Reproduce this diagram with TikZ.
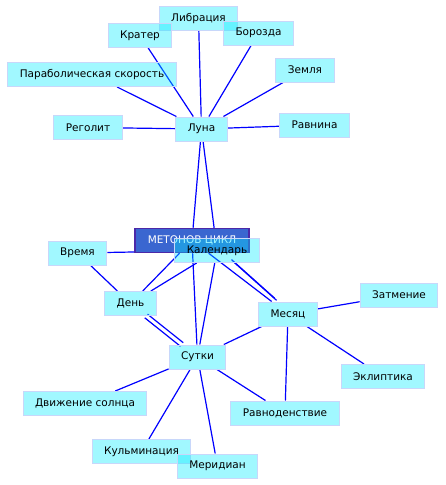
\documentclass[tikz,border=0pt]{standalone}
\usepackage{fontspec}
\setmainfont{DejaVu Sans}
\usepackage{xcolor}
\usepackage{tikz}
\usetikzlibrary{backgrounds}

\definecolor{boxfill}{RGB}{0,235,255}
\definecolor{boxline}{RGB}{200,215,250}
\definecolor{linkblue}{RGB}{0,0,255}
\definecolor{metonfill}{RGB}{58,102,208}
\definecolor{metonline}{RGB}{75,40,168}

\begin{document}
\begin{tikzpicture}[
    x=1pt, y=-1pt,
    every node/.style={font=\fontsize{10.5}{12}\selectfont},
    concept/.style={rectangle, minimum height=24pt, inner xsep=12pt, inner ysep=2pt, text centered, draw=boxline, line width=1pt, fill=boxfill, fill opacity=0.37, draw opacity=1, text opacity=1},
    core/.style={rectangle, minimum height=24pt, inner xsep=13pt, inner ysep=2pt, text centered, draw=metonline, line width=1.5pt, fill=metonfill, text=white},
    link/.style={draw=linkblue, line width=1.2pt},
    twin/.style={transform canvas={shift={#1}}}
]
\useasboundingbox (0,0) rectangle (445,485);

\node (libr) [concept] at (198.5,18.5) {Либрация};
\node (krater) [concept] at (140,35.5) {Кратер};
\node (borozda) [concept] at (258.5,33) {Борозда};
\node (parab) [concept] at (92,74.5) {Параболическая скорость};
\node (zemlya) [concept] at (305,70) {Земля};
\node (regolit) [concept] at (88,127.5) {Реголит};
\node (luna) [concept] at (201.5,129) {Луна};
\node (ravnina) [concept] at (314.5,125) {Равнина};
\node (meton) [core] at (192,240.5) {МЕТОНОВ ЦИКЛ};
\node (kalendar) [concept] at (217,250.5) {Календарь};
\node (vremya) [concept] at (77.5,253) {Время};
\node (den) [concept] at (130.5,303.5) {День};
\node (mesyac) [concept] at (288,314) {Месяц};
\node (zatmenie) [concept] at (399,295) {Затмение};
\node (sutki) [concept] at (197.5,357) {Сутки};
\node (ekliptika) [concept] at (383,376.5) {Эклиптика};
\node (dvizhenie) [concept] at (85,403.5) {Движение солнца};
\node (ravnoden) [concept] at (285,413) {Равноденствие};
\node (kulmin) [concept] at (141.5,451.5) {Кульминация};
\node (meridian) [concept] at (217.5,466) {Меридиан};

\begin{scope}[on background layer]
\draw [link] (luna) -- (libr);
\draw [link] (luna) -- (krater);
\draw [link] (luna) -- (borozda);
\draw [link] (luna) -- (parab);
\draw [link] (luna) -- (zemlya);
\draw [link] (luna) -- (regolit);
\draw [link] (luna) -- (ravnina);
\draw [link] (luna) -- (meton);
\draw [link] (luna) -- (kalendar);
\draw [link] (vremya) -- (kalendar);
\draw [link] (vremya) -- (den);
\draw [link] (den) -- (meton);
\draw [link] (den) -- (kalendar);
\draw [link, twin={(1.4,-1.8)}] (den) -- (sutki);
\draw [link, twin={(-1.4,1.8)}] (den) -- (sutki);
\draw [link] (meton) -- (mesyac);
\draw [link, twin={(2.5,-1.2)}] (kalendar) -- (mesyac);
\draw [link, twin={(0.5,-3.4)}] (kalendar) -- (mesyac);
\draw [link] (meton) -- (sutki);
\draw [link] (kalendar) -- (sutki);
\draw [link] (sutki) -- (mesyac);
\draw [link] (sutki) -- (dvizhenie);
\draw [link] (sutki) -- (kulmin);
\draw [link] (sutki) -- (meridian);
\draw [link] (sutki) -- (ravnoden);
\draw [link] (mesyac) -- (zatmenie);
\draw [link] (mesyac) -- (ekliptika);
\draw [link] (mesyac) -- (ravnoden);
\end{scope}

\end{tikzpicture}
\end{document}
